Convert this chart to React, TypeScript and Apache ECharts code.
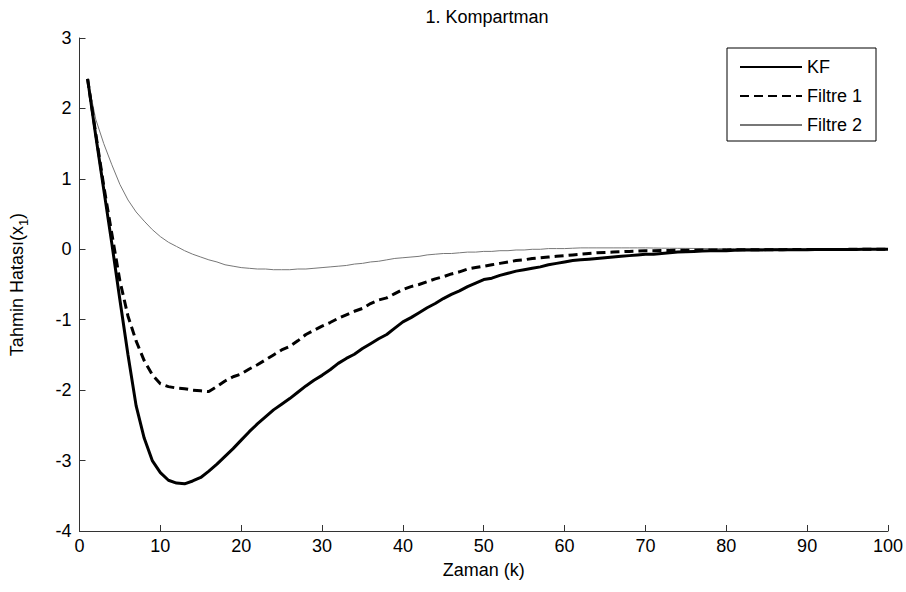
import React, { useEffect, useRef } from "react";
import * as echarts from "echarts";

const FONT = "'Liberation Sans', Arial, sans-serif";

const titleText = "1. Kompartman";
const xName = "Zaman (k)";
const seriesNames = ["KF", "Filtre 1", "Filtre 2"];

// k = 1..100
const kValues: number[] = Array.from({ length: 100 }, (_, i) => i + 1);

const kfValues: number[] = [
  2.42, 1.62, 0.85, 0.08, -0.72, -1.5, -2.22, -2.68, -3.0, -3.17,
  -3.28, -3.32, -3.33, -3.29, -3.24, -3.15, -3.05, -2.94, -2.83, -2.71,
  -2.59, -2.48, -2.38, -2.28, -2.2, -2.12, -2.03, -1.94, -1.86, -1.79,
  -1.71, -1.62, -1.55, -1.49, -1.41, -1.34, -1.27, -1.21, -1.12, -1.03,
  -0.97, -0.9, -0.83, -0.77, -0.7, -0.64, -0.59, -0.53, -0.48, -0.43,
  -0.41, -0.37, -0.34, -0.31, -0.29, -0.27, -0.25, -0.22, -0.2, -0.18,
  -0.16, -0.15, -0.14, -0.13, -0.12, -0.11, -0.1, -0.09, -0.08, -0.07,
  -0.07, -0.06, -0.05, -0.04, -0.035, -0.03, -0.025, -0.02, -0.02, -0.02,
  -0.015, -0.01, -0.01, -0.01, -0.008, -0.008, -0.006, -0.006, -0.005, -0.005,
  -0.004, -0.004, -0.003, -0.003, -0.002, -0.002, -0.001, -0.001, 0, 0,
];

const filtre1Values: number[] = [
  2.42, 1.65, 0.9, 0.22, -0.45, -0.95, -1.3, -1.58, -1.78, -1.91,
  -1.95, -1.97, -1.98, -2.0, -2.01, -2.02, -1.95, -1.87, -1.81, -1.77,
  -1.7, -1.64, -1.57, -1.5, -1.43, -1.38, -1.3, -1.21, -1.15, -1.09,
  -1.04, -0.98, -0.93, -0.88, -0.84, -0.77, -0.72, -0.69, -0.63, -0.57,
  -0.53, -0.5, -0.46, -0.42, -0.39, -0.35, -0.32, -0.28, -0.26, -0.24,
  -0.22, -0.2, -0.18, -0.16, -0.15, -0.13, -0.12, -0.11, -0.1, -0.09,
  -0.08, -0.07, -0.06, -0.05, -0.045, -0.04, -0.035, -0.03, -0.025, -0.02,
  -0.02, -0.018, -0.016, -0.015, -0.014, -0.012, -0.011, -0.01, -0.01, -0.009,
  -0.008, -0.008, -0.007, -0.006, -0.006, -0.005, -0.005, -0.004, -0.004, -0.003,
  -0.003, -0.002, -0.002, -0.002, -0.001, -0.001, -0.001, 0, 0, 0,
];

const filtre2Values: number[] = [
  2.42, 1.85, 1.5, 1.2, 0.92, 0.7, 0.53, 0.4, 0.28, 0.18,
  0.1, 0.04, -0.02, -0.07, -0.11, -0.15, -0.18, -0.22, -0.24, -0.26,
  -0.27, -0.28, -0.28, -0.29, -0.29, -0.29, -0.28, -0.28, -0.27, -0.26,
  -0.25, -0.24, -0.23, -0.21, -0.2, -0.18, -0.17, -0.15, -0.13, -0.12,
  -0.11, -0.1, -0.08, -0.07, -0.06, -0.06, -0.05, -0.04, -0.04, -0.03,
  -0.03, -0.02, -0.02, -0.01, -0.01, 0, 0, 0.01, 0.01, 0.01,
  0.015, 0.02, 0.02, 0.02, 0.02, 0.02, 0.02, 0.02, 0.02, 0.02,
  0.018, 0.016, 0.015, 0.014, 0.013, 0.012, 0.011, 0.01, 0.01, 0.01,
  0.009, 0.008, 0.008, 0.007, 0.006, 0.006, 0.005, 0.005, 0.004, 0.004,
  0.003, 0.003, 0.002, 0.002, 0.002, 0.001, 0.001, 0.001, 0, 0,
];

const pairs = (ys: number[]) => kValues.map((k, i) => [k, ys[i]]);

export default function App() {
  const ref = useRef<HTMLDivElement>(null);

  useEffect(() => {
    if (!ref.current) return;
    const chart = echarts.init(ref.current, undefined, { renderer: "svg" });
    const axisColor = "#333";
    chart.setOption({
      animation: false,
      backgroundColor: "#fff",
      textStyle: { fontFamily: FONT },
      title: {
        text: titleText,
        left: 482,
        textAlign: "center",
        top: 3,
        textStyle: { fontFamily: FONT, fontSize: 18, fontWeight: "normal", color: "#000" },
      },
      legend: {
        orient: "vertical",
        left: 727,
        top: 48,
        padding: [10, 14, 7, 12],
        itemGap: 11,
        itemWidth: 62,
        itemHeight: 14,
        borderColor: "#000",
        borderWidth: 1,
        backgroundColor: "#fff",
        itemStyle: { opacity: 0 },
        textStyle: { fontFamily: FONT, fontSize: 18, color: "#000" },
        data: seriesNames,
      },
      grid: { left: 76, right: 17, top: 38, bottom: 61 },
      xAxis: {
        type: "value",
        min: 0,
        max: 100,
        interval: 10,
        name: xName,
        nameLocation: "middle",
        nameGap: 30,
        nameTextStyle: { fontFamily: FONT, fontSize: 18, color: "#000" },
        axisLine: { show: true, onZero: false, lineStyle: { color: axisColor, width: 1 } },
        axisTick: { show: true, inside: true, length: 6, lineStyle: { color: axisColor } },
        axisLabel: { fontFamily: FONT, fontSize: 18, color: "#000", margin: 6 },
        splitLine: { show: false },
      },
      yAxis: {
        type: "value",
        min: -4,
        max: 3,
        interval: 1,
        name: "Tahmin Hatası(x{sub|1})",
        nameLocation: "middle",
        nameGap: 50,
        nameRotate: 90,
        nameTextStyle: {
          fontFamily: FONT,
          fontSize: 18,
          color: "#000",
          rich: {
            sub: { fontFamily: FONT, fontSize: 13, color: "#000", verticalAlign: "bottom", padding: [12, 0, 0, 0] },
          },
        },
        axisLine: { show: true, lineStyle: { color: axisColor, width: 1 } },
        axisTick: { show: true, inside: true, length: 6, lineStyle: { color: axisColor } },
        axisLabel: { fontFamily: FONT, fontSize: 18, color: "#000", margin: 8 },
        splitLine: { show: false },
      },
      series: [
        {
          name: seriesNames[0],
          type: "line",
          data: pairs(kfValues),
          symbol: "none",
          lineStyle: { color: "#000", width: 3, type: "solid" },
          itemStyle: { color: "#000" },
          z: 3,
        },
        {
          name: seriesNames[1],
          type: "line",
          data: pairs(filtre1Values),
          symbol: "none",
          lineStyle: { color: "#000", width: 3, type: [9, 5] },
          itemStyle: { color: "#000" },
          z: 2,
        },
        {
          name: seriesNames[2],
          type: "line",
          data: pairs(filtre2Values),
          symbol: "none",
          lineStyle: { color: "#777", width: 1, type: "solid" },
          itemStyle: { color: "#777" },
          z: 1,
        },
      ],
    });
    return () => chart.dispose();
  }, []);

  return (
    <div
      ref={ref}
      style={{ position: "fixed", left: 0, top: 0, width: 906, height: 592 }}
    />
  );
}
